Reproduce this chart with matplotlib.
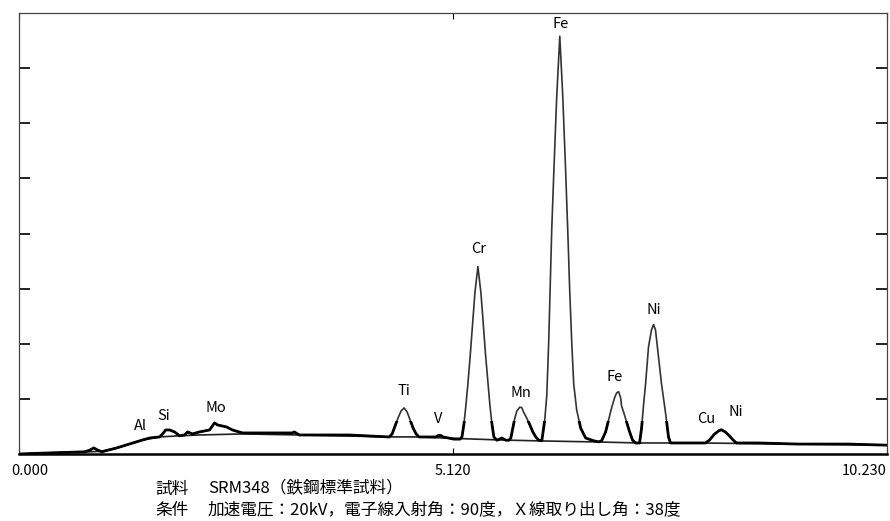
import matplotlib.pyplot as plt
import matplotlib.transforms as mtransforms
from matplotlib.patches import Rectangle

plt.rcParams['font.family'] = ['Noto Sans CJK JP', 'DejaVu Sans']

# EDSスペクトル (エネルギー keV, カウント)
energy = [0.0, 0.365, 0.776, 0.835, 0.882, 0.929, 0.976, 1.152, 1.341, 1.458, 1.540, 1.658,
          1.693, 1.729, 1.776, 1.834, 1.893, 1.952, 1.987, 2.046, 2.128, 2.246, 2.305, 2.340,
          2.446, 2.516, 2.634, 2.834, 3.222, 3.245, 3.304, 3.892, 4.363,
          4.398, 4.433, 4.468, 4.504, 4.539, 4.574, 4.610, 4.645, 4.680, 4.715,
          4.915, 4.939, 4.974, 4.998, 5.127, 5.198,
          5.221, 5.245, 5.268, 5.292, 5.321, 5.350, 5.374, 5.409, 5.444, 5.468, 5.497,
          5.527, 5.550, 5.574, 5.597, 5.633, 5.691, 5.738, 5.774,
          5.797, 5.821, 5.844, 5.868, 5.903, 5.927, 5.950, 5.985, 6.021, 6.056, 6.091,
          6.126, 6.162,
          6.197, 6.221, 6.244, 6.279, 6.303, 6.338, 6.374, 6.409, 6.444, 6.471, 6.491,
          6.515, 6.538, 6.573, 6.620, 6.679, 6.773, 6.832,
          6.867, 6.914, 6.950, 6.985, 7.020, 7.044, 7.067, 7.091, 7.102, 7.126, 7.161,
          7.197, 7.232, 7.267,
          7.314, 7.338, 7.361, 7.385, 7.420, 7.455, 7.479, 7.502, 7.538, 7.573, 7.620,
          7.655, 7.679,
          8.008, 8.090, 8.137, 8.196, 8.247, 8.278, 8.325, 8.372, 8.419, 8.455,
          8.713, 9.184, 9.772, 10.207, 10.23]
counts = [0, 20, 40, 70, 110, 70, 40, 110, 200, 255, 290, 310,
          364, 436, 436, 400, 330, 345, 400, 364, 400, 436, 564, 527,
          491, 436, 382, 382, 382, 400, 345, 345, 309,
          364, 509, 655, 782, 836, 764, 618, 473, 364, 309,
          309, 336, 336, 309, 270, 270,
          310, 550, 890, 1290, 1840, 2450, 2930, 3400, 2930, 2450, 1840,
          1290, 890, 550, 310, 250, 290, 250, 250,
          290, 470, 650, 780, 850, 840, 750, 650, 530, 400, 310,
          250, 240,
          620, 1070, 2070, 4070, 5090, 6490, 7580, 6490, 5090, 3910, 2960,
          2020, 1270, 800, 470, 290, 240, 220,
          240, 400, 620, 840, 1020, 1110, 1130, 1020, 870, 760, 580,
          400, 250, 200,
          200, 470, 890, 1270, 1950, 2250, 2350, 2250, 1760, 1270, 750,
          310, 200,
          200, 200, 250, 360, 420, 440, 400, 330, 250, 200,
          200, 180, 180, 160, 160]

# バックグラウンド
bg_energy = [0.0, 0.365, 0.835, 0.976, 1.152, 1.341, 1.458, 1.658, 1.893, 2.128, 2.634,
             3.304, 4.363, 4.715, 5.009, 5.656, 6.185, 6.832, 7.302, 8.008, 9.184,
             10.207, 10.23]
bg_counts = [0, 20, 40, 50, 110, 200, 255, 310, 330, 345, 364,
             345, 310, 310, 290, 255, 236, 218, 200, 200, 180,
             160, 160]

# 元素名ラベル
elements = ['Al', 'Si', 'Mo', 'Ti', 'V', 'Cr', 'Mn', 'Fe', 'Fe', 'Ni', 'Cu', 'Ni']
label_kev = [1.435, 1.705, 2.317, 4.539, 4.939, 5.421, 5.915, 6.385, 7.020, 7.479, 8.102, 8.443]
label_cnt = [510, 690, 840, 1150, 640, 3710, 1110, 7800, 1400, 2620, 640, 760]

xticks = [0.0, 5.12, 10.23]
xticklabels = ['0.000', '5.120', '10.230']
yticks = [1000, 2000, 3000, 4000, 5000, 6000, 7000]

fig = plt.figure(figsize=(8.9, 5.21), dpi=100)
ax = fig.add_axes([0.0213, 0.1286, 0.9753, 0.8464])

ax.plot(bg_energy, bg_counts, color='#222222', lw=1.2)
ax.plot(energy, counts, color='#333333', lw=1.2)
# ベースライン付近は太線
thick, = ax.plot(energy, counts, color='black', lw=2.0)
thick.set_clip_path(Rectangle((0, 0), 10.23, 600, transform=ax.transData))

for name, x, y in zip(elements, label_kev, label_cnt):
    ax.text(x, y, name, ha='center', va='center', fontsize=10.5)

ax.set_xlim(0, 10.23)
ax.set_ylim(0, 8000)
ax.set_xticks(xticks, xticklabels)
ax.set_yticks(yticks)
ax.set_yticklabels([])
ax.tick_params(axis='y', direction='in', length=8, width=1.3, left=True, right=True, color='#111111')
ax.tick_params(axis='x', direction='in', length=4, width=0.8, top=True, bottom=True,
               pad=7, labelsize=10.5)

tl = ax.get_xticklabels()
tl[0].set_transform(tl[0].get_transform() + mtransforms.ScaledTranslation(0.11, 0, fig.dpi_scale_trans))
tl[2].set_ha('right')

for s in ['left', 'right', 'top']:
    ax.spines[s].set_color('#444444')
    ax.spines[s].set_linewidth(0.9)
ax.spines['bottom'].set_color('black')
ax.spines['bottom'].set_linewidth(1.8)

fig.text(155 / 890, 1 - 489 / 521, '試料', va='center', fontsize=12)
fig.text(208 / 890, 1 - 489 / 521, 'SRM348（鉄鋼標準試料）', va='center', fontsize=12)
fig.text(155 / 890, 1 - 510 / 521, '条件', va='center', fontsize=12)
fig.text(208 / 890, 1 - 510 / 521, '加速電圧：20kV，電子線入射角：90度，Ｘ線取り出し角：38度',
         va='center', fontsize=12)

fig.savefig('out.png', dpi=100)
